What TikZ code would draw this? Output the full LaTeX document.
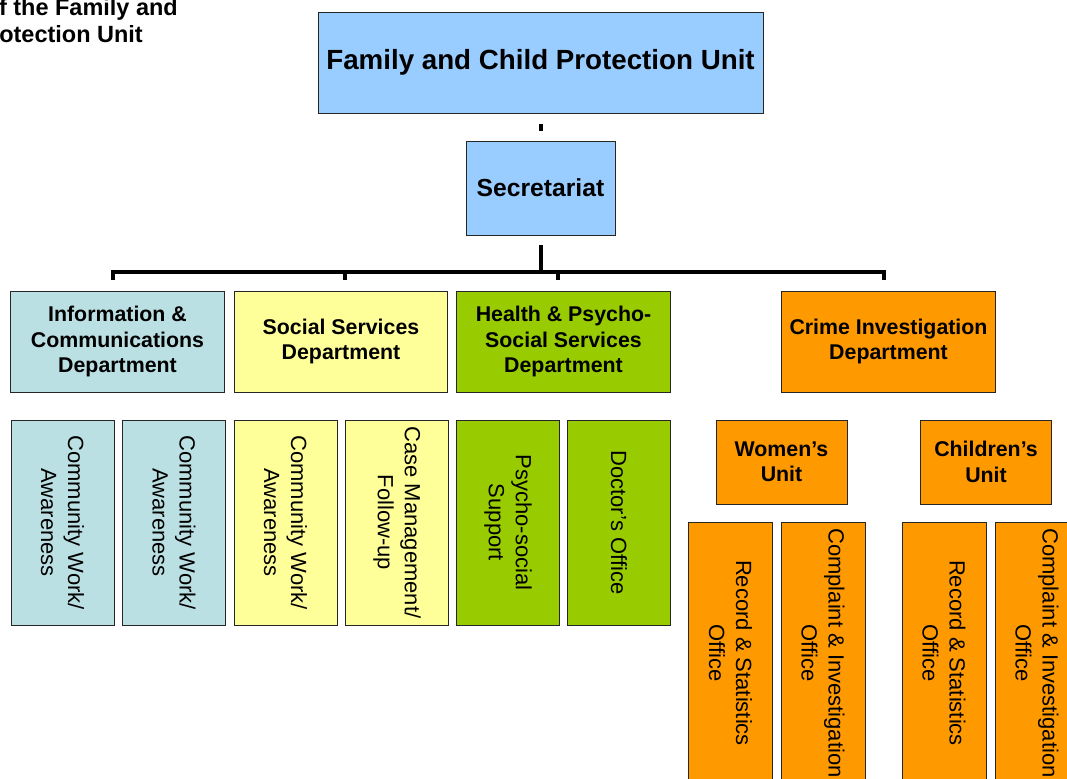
\documentclass[tikz,border=0pt]{standalone}
\usepackage{fontspec}
\setsansfont{Liberation Sans}
\usetikzlibrary{positioning, calc}
\definecolor{cblue}{HTML}{99CCFF}
\definecolor{cteal}{HTML}{BBE0E3}
\definecolor{cyellow}{HTML}{FFFF99}
\definecolor{cgreen}{HTML}{99CC00}
\definecolor{corange}{HTML}{FF9900}
\tikzset{
  every picture/.style={font=\sffamily},
  box/.style={draw=black!85, fill=#1, line width=0.75pt, align=center, inner sep=2pt},
  box/.default=cblue,
  dept/.style={box=#1, minimum width=160pt, minimum height=75.75pt,
    font=\sffamily\bfseries\fontsize{16}{19.1}\selectfont},
  vbox/.style={box=#1, rotate=-90, minimum width=153.75pt, minimum height=77.25pt,
    font=\sffamily\fontsize{16.5}{20.3}\selectfont},
  unit/.style={box=corange, minimum width=98.25pt, minimum height=63pt,
    font=\sffamily\bfseries\fontsize{16}{19.1}\selectfont},
  office/.style={box=corange, rotate=-90, minimum width=196.5pt, minimum height=63pt,
    font=\sffamily\fontsize{16.5}{20.3}\selectfont},
  link/.style={draw=black, line width=3pt},
}

\begin{document}
\begin{tikzpicture}[x=0.75pt, y=-0.75pt]
  \useasboundingbox (0,0) rectangle (1067,778);
  % heading, cut at the left margin
  \node[anchor=base east, inner sep=0, font=\sffamily\bfseries\fontsize{17.6}{20}\selectfont]
    (head1) at (178,16) {f the Family and};
  \node[anchor=base east, inner sep=0, font=\sffamily\bfseries\fontsize{17.6}{20}\selectfont]
    (head2) at (143,42) {otection Unit};
  % unit and secretariat
  \node[box, minimum width=333.75pt, minimum height=75.75pt,
    font=\sffamily\bfseries\fontsize{20.8}{24}\selectfont] (unit) at (540.5,62.5)
    {Family and Child Protection Unit};
  \node[box, minimum width=111.75pt, minimum height=70.5pt,
    font=\sffamily\bfseries\fontsize{18.5}{22}\selectfont] (sec) at (540.5,188) {Secretariat};
  % departments
  \node[dept=cteal] (info) at (117.5,341.5) {Information \&\\Communications\\Department};
  \node[dept=cyellow] (soc) at (341,341.5) {Social Services\\Department};
  \node[dept=cgreen] (hlth) at (563.5,341.5) {Health \& Psycho-\\Social Services\\Department};
  \node[dept=corange] (crime) at (888.5,341.5) {Crime Investigation\\Department};
  % sections under each department
  \foreach \n/\x/\c/\t in {ic1/62.5/cteal/{Community Work/\\Awareness},
      ic2/174/cteal/{Community Work/\\Awareness},
      sc1/285.5/cyellow/{Community Work/\\Awareness},
      sc2/397/cyellow/{Case Management/\\Follow-up},
      hc1/508/cgreen/{Psycho-social\\Support},
      hc2/619/cgreen/{Doctor’s Office}}
    \node[vbox=\c] (\n) at (\x,522.5) {\t};
  % crime units and their offices
  \node[unit] (women) at (781.5,462) {Women’s\\Unit};
  \node[unit] (child) at (986,462) {Children’s\\Unit};
  \foreach \n/\x/\t in {wo1/730.5/{Record \& Statistics\\Office},
      wo2/823/{Complaint \& Investigation\\Office},
      co1/944/{Record \& Statistics\\Office},
      co2/1037/{Complaint \& Investigation\\Office}}
    \node[office] (\n) at (\x,653) {\t};
  % connectors
  \coordinate (bar) at (540.5,272);
  \draw[link] ([yshift=-7.5pt]unit.south) -- ([yshift=7.5pt]sec.north);
  \draw[link] ([yshift=-6.75pt]sec.south) -- (sec.south |- bar);
  \draw[link] ([xshift=-3.4pt, yshift=8.25pt]info.north) |- (bar)
    -| ([xshift=-3.4pt, yshift=8.25pt]crime.north);
  \foreach \d/\s in {soc/3pt, hlth/-4pt}
    \draw[link] ([xshift=\s, yshift=8.25pt]\d.north) -- ([xshift=\s]\d.north |- bar);
\end{tikzpicture}
\end{document}
